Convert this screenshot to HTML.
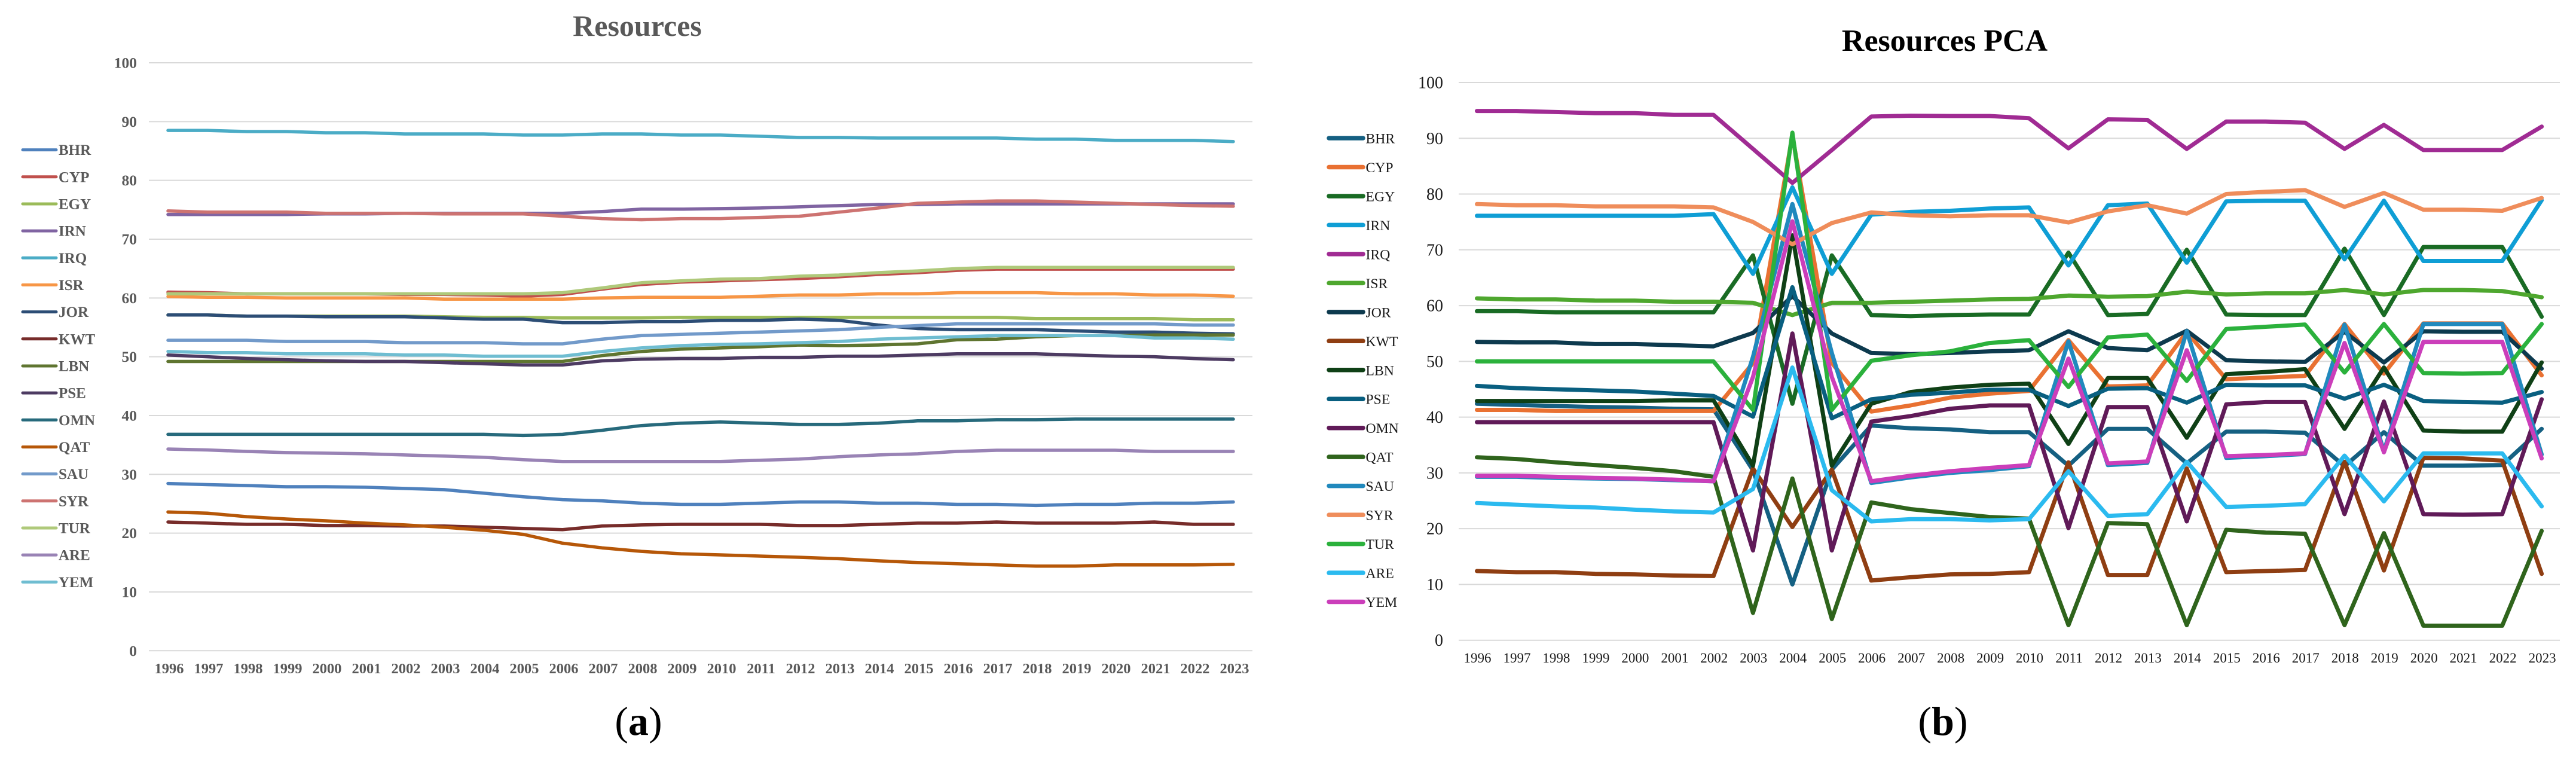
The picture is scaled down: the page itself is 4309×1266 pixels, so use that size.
<!DOCTYPE html>
<html lang="en">
<head>
<meta charset="utf-8">
<title>Resources and Resources PCA</title>
<style>
html,body{margin:0;padding:0;background:#fff;width:4309px;height:1266px;overflow:hidden}
svg{display:block;font-family:"Liberation Serif",serif}
</style>
</head>
<body>
<svg id="figure" xmlns="http://www.w3.org/2000/svg" width="4309" height="1266" viewBox="0 0 4309 1266">
  <rect width="4309" height="1266" fill="#fff"/>
  <g id="chart-a">
    <text x="1066" y="60" text-anchor="middle" font-size="50" font-weight="700" fill="#595959">Resources</text>
  </g>
  <g id="chart-b">
    <text x="3253" y="85" text-anchor="middle" font-size="52" font-weight="700" fill="#000">Resources PCA</text>
  </g>
  <text x="1068" y="1229" text-anchor="middle" font-size="68" fill="#000">(<tspan font-weight="700">a</tspan>)</text>
  <text x="3250" y="1229" text-anchor="middle" font-size="68" fill="#000">(<tspan font-weight="700">b</tspan>)</text>
</svg>
<script>
// ---------- shared categories and tick labels ----------
const years = [1996,1997,1998,1999,2000,2001,2002,2003,2004,2005,2006,2007,2008,2009,2010,2011,2012,2013,2014,2015,2016,2017,2018,2019,2020,2021,2022,2023];
const yTicks = [0,10,20,30,40,50,60,70,80,90,100];
const countries = ['BHR','CYP','EGY','IRN','IRQ','ISR','JOR','KWT','LBN','PSE','OMN','QAT','SAU','SYR','TUR','ARE','YEM'];

// ---------- chart (a) Resources: series values ----------
const resBHR = [28.45,28.25,28.1,27.9,27.9,27.8,27.6,27.4,26.8,26.2,25.7,25.5,25.1,24.9,24.9,25.1,25.3,25.3,25.1,25.1,24.9,24.9,24.7,24.9,24.9,25.1,25.1,25.3];
const resCYP = [61,60.9,60.7,60.7,60.7,60.7,60.6,60.6,60.5,60.3,60.6,61.5,62.3,62.7,62.9,63.1,63.3,63.6,64,64.3,64.7,64.9,64.9,64.9,64.9,64.9,64.9,64.9];
const resEGY = [57.1,57.1,56.9,56.9,56.9,56.9,56.9,56.8,56.7,56.7,56.6,56.6,56.6,56.7,56.7,56.7,56.7,56.7,56.7,56.7,56.7,56.7,56.5,56.5,56.5,56.5,56.3,56.3];
const resIRN = [74.2,74.2,74.2,74.2,74.3,74.3,74.4,74.4,74.4,74.4,74.4,74.7,75.1,75.1,75.2,75.3,75.5,75.7,75.9,75.9,76,76,76,76,76,76,76,76];
const resIRQ = [88.5,88.5,88.3,88.3,88.1,88.1,87.9,87.9,87.9,87.7,87.7,87.9,87.9,87.7,87.7,87.5,87.3,87.3,87.2,87.2,87.2,87.2,87,87,86.8,86.8,86.8,86.6];
const resISR = [60.25,60.1,60.1,60,60,60,60,59.8,59.8,59.8,59.8,60,60.1,60.1,60.1,60.3,60.5,60.5,60.7,60.7,60.9,60.9,60.9,60.7,60.7,60.5,60.5,60.3];
const resJOR = [57.1,57.1,56.9,56.9,56.8,56.8,56.8,56.6,56.4,56.4,55.8,55.8,56,56,56.2,56.2,56.4,56.2,55.4,54.8,54.6,54.6,54.6,54.4,54.2,54.2,54,53.9];
const resKWT = [21.9,21.7,21.5,21.5,21.3,21.3,21.2,21.2,21,20.8,20.6,21.2,21.4,21.5,21.5,21.5,21.3,21.3,21.5,21.7,21.7,21.9,21.7,21.7,21.7,21.9,21.5,21.5];
const resLBN = [49.2,49.2,49.2,49.2,49.2,49.2,49.2,49.2,49.2,49.2,49.2,50.2,50.9,51.3,51.5,51.7,52,51.9,52,52.2,52.9,53,53.4,53.6,53.6,53.7,53.7,53.7];
const resPSE = [50.3,50,49.7,49.5,49.3,49.2,49.2,49,48.8,48.6,48.6,49.3,49.6,49.7,49.7,49.9,49.9,50.1,50.1,50.3,50.5,50.5,50.5,50.3,50.1,50,49.7,49.5];
const resOMN = [36.8,36.8,36.8,36.8,36.8,36.8,36.8,36.8,36.8,36.6,36.8,37.5,38.3,38.7,38.9,38.7,38.5,38.5,38.7,39.1,39.1,39.3,39.3,39.4,39.4,39.4,39.4,39.4];
const resQAT = [23.6,23.4,22.8,22.4,22.1,21.7,21.4,21,20.5,19.8,18.3,17.5,16.9,16.5,16.3,16.1,15.9,15.65,15.3,15,14.8,14.6,14.4,14.4,14.6,14.6,14.6,14.7];
const resSAU = [52.8,52.8,52.8,52.6,52.6,52.6,52.4,52.4,52.4,52.2,52.2,53,53.6,53.8,54,54.2,54.4,54.6,55,55.3,55.6,55.6,55.6,55.6,55.6,55.6,55.4,55.4];
const resSYR = [74.8,74.6,74.6,74.6,74.4,74.4,74.4,74.3,74.3,74.3,73.9,73.5,73.3,73.5,73.5,73.7,73.9,74.6,75.3,76.1,76.3,76.5,76.5,76.3,76.1,75.9,75.7,75.6];
const resTUR = [60.7,60.7,60.7,60.7,60.7,60.7,60.7,60.7,60.7,60.7,60.9,61.7,62.6,62.9,63.2,63.3,63.7,63.9,64.3,64.6,65,65.2,65.2,65.2,65.2,65.2,65.2,65.2];
const resARE = [34.3,34.15,33.9,33.7,33.6,33.5,33.3,33.1,32.9,32.5,32.2,32.2,32.2,32.2,32.2,32.4,32.6,33,33.3,33.5,33.9,34.1,34.1,34.1,34.1,33.9,33.9,33.9];
const resYEM = [50.9,50.7,50.7,50.5,50.5,50.5,50.3,50.3,50.1,50.1,50.1,50.9,51.5,51.9,52.1,52.2,52.4,52.6,53,53.2,53.4,53.6,53.6,53.6,53.6,53.2,53.2,53];

// ---------- chart (b) Resources PCA: series values ----------
const pcaBHR = [42.4,42.2,42,41.8,41.7,41.5,41.4,30.5,10,30.6,38.5,38,37.8,37.3,37.3,31.3,37.9,37.9,31.7,37.4,37.4,37.2,31.2,37.3,31.3,31.3,31.4,37.9];
const pcaCYP = [41.3,41.3,41.1,41.1,41.1,41.1,41.1,49.7,90.5,49.7,41,42.1,43.5,44.2,44.7,53.8,45.5,45.7,55.3,46.8,47.1,47.4,56.7,47.8,56.8,56.8,56.8,47.5];
const pcaEGY = [59,59,58.8,58.8,58.8,58.8,58.8,69,42.4,69,58.3,58.1,58.3,58.4,58.4,69.5,58.3,58.5,70,58.4,58.3,58.3,70.2,58.3,70.5,70.5,70.5,58];
const pcaIRN = [76.1,76.1,76.1,76.1,76.1,76.1,76.4,65.7,81.2,65.7,76.3,76.8,77,77.4,77.6,67.2,78,78.3,67.7,78.7,78.8,78.8,68.3,78.8,68,68,68,78.9];
const pcaIRQ = [94.9,94.9,94.7,94.5,94.5,94.2,94.2,88.1,82,87.9,93.9,94.05,94,94,93.6,88.2,93.4,93.3,88.1,93,93,92.8,88.1,92.4,87.9,87.9,87.9,92.1];
const pcaISR = [61.3,61.1,61.1,60.9,60.9,60.7,60.7,60.5,58.3,60.5,60.5,60.7,60.9,61.1,61.2,61.8,61.6,61.7,62.5,62,62.2,62.2,62.8,62,62.8,62.8,62.6,61.5];
const pcaJOR = [53.5,53.4,53.4,53.1,53.1,52.9,52.7,55.1,61.7,55,51.5,51.3,51.5,51.8,52,55.4,52.4,52,55.5,50.2,50,49.9,55.3,49.8,55.4,55.3,55.3,48.7];
const pcaKWT = [12.4,12.2,12.2,11.9,11.8,11.6,11.5,30.8,20.3,30.6,10.7,11.3,11.8,11.9,12.2,31.9,11.7,11.7,30.8,12.2,12.4,12.6,32,12.5,32.7,32.6,32.2,11.9];
const pcaLBN = [42.9,42.9,42.9,42.9,42.9,43,43,31.3,72.6,31.3,42.4,44.5,45.3,45.8,46,35.2,47,47,36.3,47.7,48.1,48.6,37.9,48.9,37.6,37.4,37.4,49.8];
const pcaPSE = [45.6,45.2,45,44.8,44.6,44.2,43.8,40.1,63.3,39.8,43.2,44,44.4,44.9,44.9,42,45.1,45.2,42.6,45.8,45.7,45.7,43.3,45.8,42.9,42.7,42.6,44.5];
const pcaOMN = [39.1,39.1,39.1,39.1,39.1,39.1,39.1,16.1,55,16.1,39.2,40.2,41.5,42.1,42.1,20.1,41.8,41.8,21.3,42.3,42.7,42.7,22.6,42.8,22.6,22.5,22.6,43.2];
const pcaQAT = [32.8,32.5,31.9,31.4,30.9,30.3,29.3,4.9,29,3.8,24.7,23.5,22.8,22.1,21.8,2.7,21,20.8,2.7,19.8,19.3,19.1,2.7,19.2,2.6,2.6,2.6,19.6];
const pcaSAU = [29.3,29.3,29.1,29,28.9,28.7,28.5,50.8,78.2,51.5,28.2,29.2,30,30.5,31.2,53.6,31.4,31.8,55.4,32.7,33,33.4,56.6,33.9,56.7,56.7,56.7,33.3];
const pcaSYR = [78.2,78,78,77.8,77.8,77.8,77.6,75,71,74.8,76.7,76.2,76,76.2,76.2,74.9,76.9,78,76.5,80,80.4,80.7,77.7,80.2,77.2,77.2,77,79.3];
const pcaTUR = [50,50,50,50,50,50,50,41.3,91,41.3,50.1,51.1,51.8,53.3,53.8,45.4,54.3,54.8,46.5,55.8,56.2,56.6,48,56.7,47.9,47.8,47.9,56.7];
const pcaARE = [24.6,24.3,24,23.8,23.4,23.1,22.9,27.1,48.9,26.9,21.3,21.7,21.7,21.5,21.7,30.3,22.3,22.6,32,23.9,24.1,24.4,33.1,24.9,33.5,33.5,33.5,24];
const pcaYEM = [29.5,29.5,29.3,29.1,29,28.8,28.5,47.2,75.1,47.2,28.5,29.5,30.3,30.9,31.4,50.5,31.7,32.05,52,33,33.2,33.5,53.3,33.7,53.5,53.5,53.5,32.6];

const resourceSeries = [resBHR,resCYP,resEGY,resIRN,resIRQ,resISR,resJOR,resKWT,resLBN,resPSE,resOMN,resQAT,resSAU,resSYR,resTUR,resARE,resYEM];
const pcaSeries = [pcaBHR,pcaCYP,pcaEGY,pcaIRN,pcaIRQ,pcaISR,pcaJOR,pcaKWT,pcaLBN,pcaPSE,pcaOMN,pcaQAT,pcaSAU,pcaSYR,pcaTUR,pcaARE,pcaYEM];

const resourceColors = ['#4F81BD','#C0504D','#9BBB59','#8064A2','#4BACC6','#F79646','#2C4D75','#772C2A','#5F7530','#4D3B62','#276A7C','#B65708','#729ACA','#CD7371','#AFC97A','#9983B5','#6FBDD1'];
const pcaColors = ['#156082','#E97132','#196B24','#0F9ED5','#A02B93','#4EA72E','#0D3A4E','#8F3E12','#0F4016','#095F80','#601A58','#2F641C','#2189BD','#EF8D5B','#2BB13C','#2BBAEF','#CB3EBA'];

const SVGNS = 'http://www.w3.org/2000/svg';
function make(tag, attrs, parent) {
  const el = document.createElementNS(SVGNS, tag);
  for (const k in attrs) el.setAttribute(k, attrs[k]);
  parent.appendChild(el);
  return el;
}

function drawChart(prefix, root, seriesList, colors, g) {
  const axisX = i => g.firstPointX + i * (g.lastPointX - g.firstPointX) / (years.length - 1);
  const axisY = v => g.zeroY - (v / 100) * (g.zeroY - g.hundredY);

  yTicks.forEach(t => {
    const grid = make('line', {x1: g.plotLeft, x2: g.plotRight, y1: axisY(t), y2: axisY(t), stroke: '#D9D9D9', 'stroke-width': 2}, root);
    
    
    const label = make('text', {x: g.tickRight, y: axisY(t) + g.tickShift, 'text-anchor': 'end', 'font-size': g.tickSize, 'font-weight': g.weight, fill: g.textColor}, root);
    label.textContent = t;
    
    
  });

  years.forEach((y, i) => {
    const label = make('text', {x: axisX(i) + g.yearShiftX, y: g.yearBaseline, 'text-anchor': 'middle', 'font-size': g.yearSize, 'font-weight': g.weight, fill: g.textColor}, root);
    label.textContent = y;
    
    
  });

  seriesList.forEach((values, s) => {
    const pts = values.map((v, i) => axisX(i).toFixed(1) + ',' + axisY(v).toFixed(1)).join(' ');
    const line = make('polyline', {points: pts, fill: 'none', stroke: colors[s], 'stroke-width': g.lineWidth, 'stroke-linejoin': 'round', 'stroke-linecap': 'round'}, root);
    
    
  });

  countries.forEach((c, s) => {
    const y = g.legendTop + s * g.legendStep;
    const swatch = make('line', {x1: g.swatchLeft, x2: g.swatchRight, y1: y, y2: y, stroke: colors[s], 'stroke-width': g.swatchWidth, 'stroke-linecap': 'round'}, root);
    
    
    const label = make('text', {x: g.legendTextX, y: y + g.legendShift, 'font-size': g.legendSize, 'font-weight': g.weight, fill: g.textColor}, root);
    label.textContent = c;
    
    
  });
}

drawChart('chart-a', document.getElementById('chart-a'), resourceSeries, resourceColors, {
  plotLeft: 249, plotRight: 2095, zeroY: 1088.3, hundredY: 105,
  firstPointX: 281, lastPointX: 2063, tickRight: 229, tickShift: 8.5, tickSize: 25.5,
  yearBaseline: 1126, yearSize: 24.5, yearShiftX: 2, weight: 700, textColor: '#595959',
  lineWidth: 5.5,
  legendTop: 250.6, legendStep: 45.17, swatchLeft: 38, swatchRight: 94, swatchWidth: 5,
  legendTextX: 98, legendShift: 8.5, legendSize: 25
});

drawChart('chart-b', document.getElementById('chart-b'), pcaSeries, pcaColors, {
  plotLeft: 2440, plotRight: 4282, zeroY: 1070.7, hundredY: 138,
  firstPointX: 2470.5, lastPointX: 4251.6, tickRight: 2414, tickShift: 9.5, tickSize: 28,
  yearBaseline: 1108, yearSize: 23, yearShiftX: 1, weight: 400, textColor: '#1a1a1a',
  lineWidth: 7,
  legendTop: 231, legendStep: 48.47, swatchLeft: 2223, swatchRight: 2280, swatchWidth: 7.5,
  legendTextX: 2284.5, legendShift: 8.5, legendSize: 23.7
});
</script>
</body>
</html>
